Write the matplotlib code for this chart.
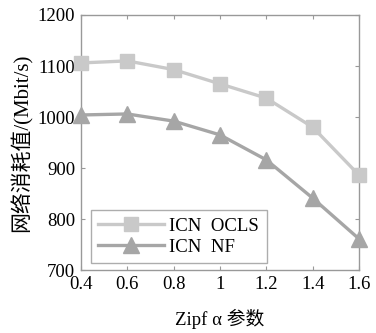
import matplotlib
matplotlib.use("Agg")
import matplotlib.pyplot as plt

x = [0.4, 0.6, 0.8, 1.0, 1.2, 1.4, 1.6]
ocls = [1106, 1110, 1093, 1065, 1037, 980, 886]
nf = [1004, 1006, 992, 965, 916, 841, 761]
xticks = [0.4, 0.6, 0.8, 1, 1.2, 1.4, 1.6]
yticks = [700, 800, 900, 1000, 1100, 1200]

plt.rcParams['font.family'] = ['Liberation Serif', 'Noto Sans CJK SC']

fig = plt.figure(figsize=(3.76, 3.33), dpi=100)
ax = fig.add_axes([0.215, 0.189, 0.74, 0.766])

ax.plot(x, ocls, color='#c9c9c9', lw=2.4, marker='s', ms=10, label='ICN  OCLS', clip_on=False, zorder=3)
ax.plot(x, nf, color='#a6a6a6', lw=2.4, marker='^', ms=11, label='ICN  NF', clip_on=False, zorder=3)

ax.set_xlim(0.4, 1.6)
ax.set_ylim(700, 1200)
ax.set_xticks(xticks)
ax.set_xticklabels(['0.4', '0.6', '0.8', '1', '1.2', '1.4', '1.6'])
ax.set_yticks(yticks)
ax.tick_params(direction='in', top=True, right=True, labelsize=13.5, color='#999999', length=3, pad=4)
for s in ax.spines.values():
    s.set_color('#999999')
    s.set_linewidth(1.0)

ax.set_xlabel('Zipf α 参数', fontsize=13.5, labelpad=12)
ax.set_ylabel('网络消耗值/(Mbit/s)', fontsize=15, labelpad=4)

leg = ax.legend(loc='lower left', bbox_to_anchor=(0.035, 0.027), borderaxespad=0, fontsize=13.5, frameon=True,
                fancybox=False, edgecolor='#999999', handlelength=3.5, handletextpad=0.3,
                borderpad=0.4, labelspacing=0.2)
leg.get_frame().set_linewidth(1.0)

fig.savefig('out.png', dpi=100)
